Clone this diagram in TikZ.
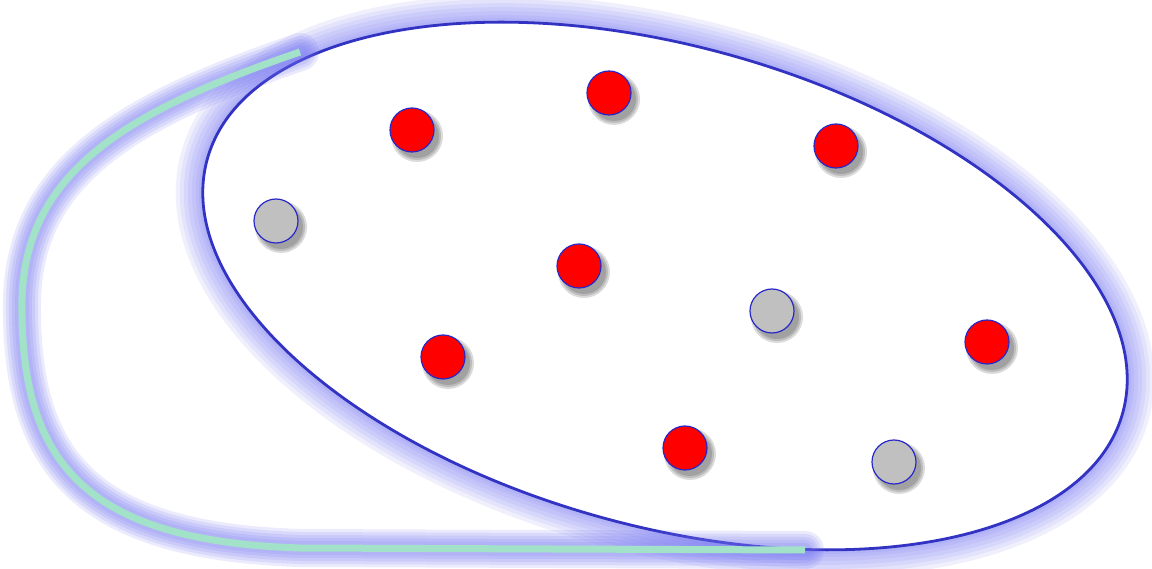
\documentclass[tikz,border=0pt]{standalone}
\begin{document}
\begin{tikzpicture}[x=1pt,y=1pt,
  dotshadow/.style={fill=black,opacity=0.14,draw=none},
  reddot/.style={circle,minimum size=44pt,inner sep=0pt,fill=red,draw={rgb,255:red,40;green,40;blue,200},line width=1.2pt},
  graydot/.style={circle,minimum size=44pt,inner sep=0pt,fill={rgb,255:red,192;green,192;blue,192},draw={rgb,255:red,40;green,40;blue,200},line width=1.2pt},
  glow/.style={draw={rgb,255:red,110;green,110;blue,240},opacity=0.10,line cap=round}
]
\useasboundingbox (0,0) rectangle (1152,568);
\definecolor{ellblue}{RGB}{50,50,195}
\definecolor{mint}{RGB}{162,226,200}
% ellipse glow
\foreach \w in {54,46,38,30,22,14,8}{
  \draw[glow,line width=\w pt] (665,282) ellipse[x radius=475,y radius=240,rotate=-15.5];
}
\fill[white] (665,282) ellipse[x radius=475,y radius=240,rotate=-15.5];
\draw[ellblue,line width=2.8pt] (665,282) ellipse[x radius=475,y radius=240,rotate=-15.5];
% dot shadows
\foreach \p/\t in {412/438,609/475,836/422,579/302,443/211,987/226,685/120,276/347,772/257,894/106}{
  \foreach \rr in {26,24,22}{
    \fill[dotshadow] (\p+5,\t-6) circle (\rr);
  }
}
\node[reddot] (r1) at (412,438) {};
\node[reddot] (r2) at (609,475) {};
\node[reddot] (r3) at (836,422) {};
\node[reddot] (r4) at (579,302) {};
\node[reddot] (r5) at (443,211) {};
\node[reddot] (r6) at (987,226) {};
\node[reddot] (r7) at (685,120) {};
\node[graydot] (g1) at (276,347) {};
\node[graydot] (g2) at (772,257) {};
\node[graydot] (g3) at (894,106) {};
% green curve with glow
\coordinate (cs) at (300,516);
\coordinate (cm) at (22,268);
\coordinate (cb) at (300,20);
\coordinate (ce) at (805,18);
\foreach \w in {38,32,26,20,14}{
  \draw[glow,line width=\w pt,opacity=0.14] (cs) .. controls (130,458) and (25,398) .. (cm) .. controls (20,110) and (80,27) .. (cb) -- (ce);
}
\draw[mint,line width=7pt] (cs) .. controls (130,458) and (25,398) .. (cm) .. controls (20,110) and (80,27) .. (cb) -- (ce);
\end{tikzpicture}
\end{document}
